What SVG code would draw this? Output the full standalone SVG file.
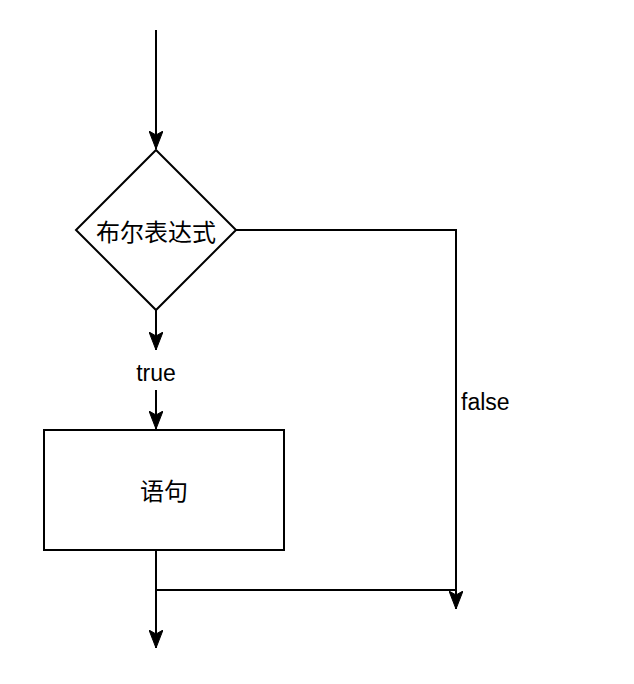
<svg xmlns="http://www.w3.org/2000/svg" width="634" height="684" viewBox="0 0 634 684">
  <style>
    .shape { fill: #ffffff; stroke: #000000; stroke-width: 2; }
    .edge { fill: none; stroke: #000000; stroke-width: 2; }
    .cjk { font-family: "Liberation Sans", "Noto Sans CJK SC", sans-serif; font-size: 24px; fill: #000000; text-anchor: middle; }
    .lbl { font-family: "Liberation Sans", Arial, sans-serif; font-size: 23px; fill: #000000; }
  </style>
  <defs>
    <marker id="arrow" viewBox="0 0 18 14" refX="18" refY="7" markerWidth="18" markerHeight="14" markerUnits="userSpaceOnUse" orient="auto">
      <path d="M0 0 L18 7 L0 14 L4 7 Z" fill="#000000" stroke="#000000" stroke-width="1"/>
    </marker>
  </defs>
  <rect width="634" height="684" fill="#ffffff"/>
  <g id="connectors">
    <path class="edge" d="M156 30 L156 149" marker-end="url(#arrow)"/>
    <path class="edge" d="M156 310 L156 350" marker-end="url(#arrow)"/>
    <path class="edge" d="M156 390 L156 429" marker-end="url(#arrow)"/>
    <path class="edge" d="M236 230 L456 230 L456 609" marker-end="url(#arrow)"/>
    <path class="edge" d="M156 550 L156 648" marker-end="url(#arrow)"/>
    <path class="edge" d="M156 590 L456 590"/>
    <text class="lbl" x="461" y="410">false</text>
  </g>
  <g id="decision">
    <polygon class="shape" points="156,150 236,230 156,310 76,230"/>
    <text class="cjk" x="156" y="241">布尔表达式</text>
  </g>
  <g id="true-label">
    <text class="lbl" x="156" y="381" text-anchor="middle">true</text>
  </g>
  <g id="statement">
    <rect class="shape" x="44" y="430" width="240" height="120"/>
    <text class="cjk" x="164" y="500">语句</text>
  </g>
</svg>
